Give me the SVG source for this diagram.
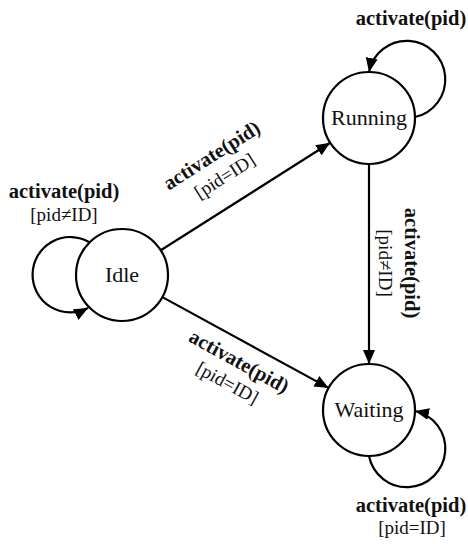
<svg xmlns="http://www.w3.org/2000/svg" width="468" height="544" viewBox="0 0 468 544">
<style>
.node circle{fill:#fff;stroke:#000;stroke-width:2.2}
.node text{font-family:"Liberation Serif",serif;font-size:22px;text-anchor:middle;fill:#111}
.edge{fill:none;stroke:#000;stroke-width:2.2;marker-end:url(#arrow)}
.lb{font-family:"Liberation Serif",serif;font-weight:bold;font-size:20.5px;text-anchor:middle;fill:#111}
.lr{font-family:"Liberation Serif",serif;font-size:19px;text-anchor:middle;fill:#111}
</style>
<defs>
<marker id="arrow" markerUnits="userSpaceOnUse" markerWidth="15" markerHeight="13" refX="14" refY="6.5" orient="auto">
<path d="M0,0.5 L14,6.5 L0,12.5 z" fill="#000"/>
</marker>
</defs>
<g id="connectors">
<path class="edge" d="M160.8,250.3 L330.2,142.7"/>
<path class="edge" d="M162.4,297.1 L328.6,387.9"/>
<path class="edge" d="M369,164 L369,364"/>
<path class="edge" d="M415,117 A38.5,38.5 0 1 0 369,72"/>
<path class="edge" d="M369,456 A38.5,38.5 0 1 0 415,411"/>
<path class="edge" d="M89,242 A37.7,37.7 0 1 0 88,308"/>
</g>
<g id="labels">
<text class="lb" x="411" y="25">activate(pid)</text>
<text class="lb" x="64" y="198">activate(pid)</text>
<text class="lr" x="64" y="221">[pid≠ID]</text>
<g transform="translate(219,167) rotate(-32.4)">
<text class="lb" x="0" y="-7">activate(pid)</text>
<text class="lr" x="0" y="17">[pid=ID]</text>
</g>
<g transform="translate(232.5,373.5) rotate(28.7)">
<text class="lb" x="0" y="-7">activate(pid)</text>
<text class="lr" x="0" y="17">[pid=ID]</text>
</g>
<g transform="translate(397,263) rotate(90)">
<text class="lb" x="0" y="-8">activate(pid)</text>
<text class="lr" x="0" y="18">[pid≠ID]</text>
</g>
<text class="lb" x="411" y="512">activate(pid)</text>
<text class="lr" x="412" y="534">[pid=ID]</text>
</g>
<g id="idle" class="node">
<circle cx="122" cy="275" r="46"/>
<text x="122" y="282">Idle</text>
</g>
<g id="running" class="node">
<circle cx="369" cy="118" r="46"/>
<text x="369" y="125">Running</text>
</g>
<g id="waiting" class="node">
<circle cx="369" cy="410" r="46"/>
<text x="369" y="417">Waiting</text>
</g>
</svg>
